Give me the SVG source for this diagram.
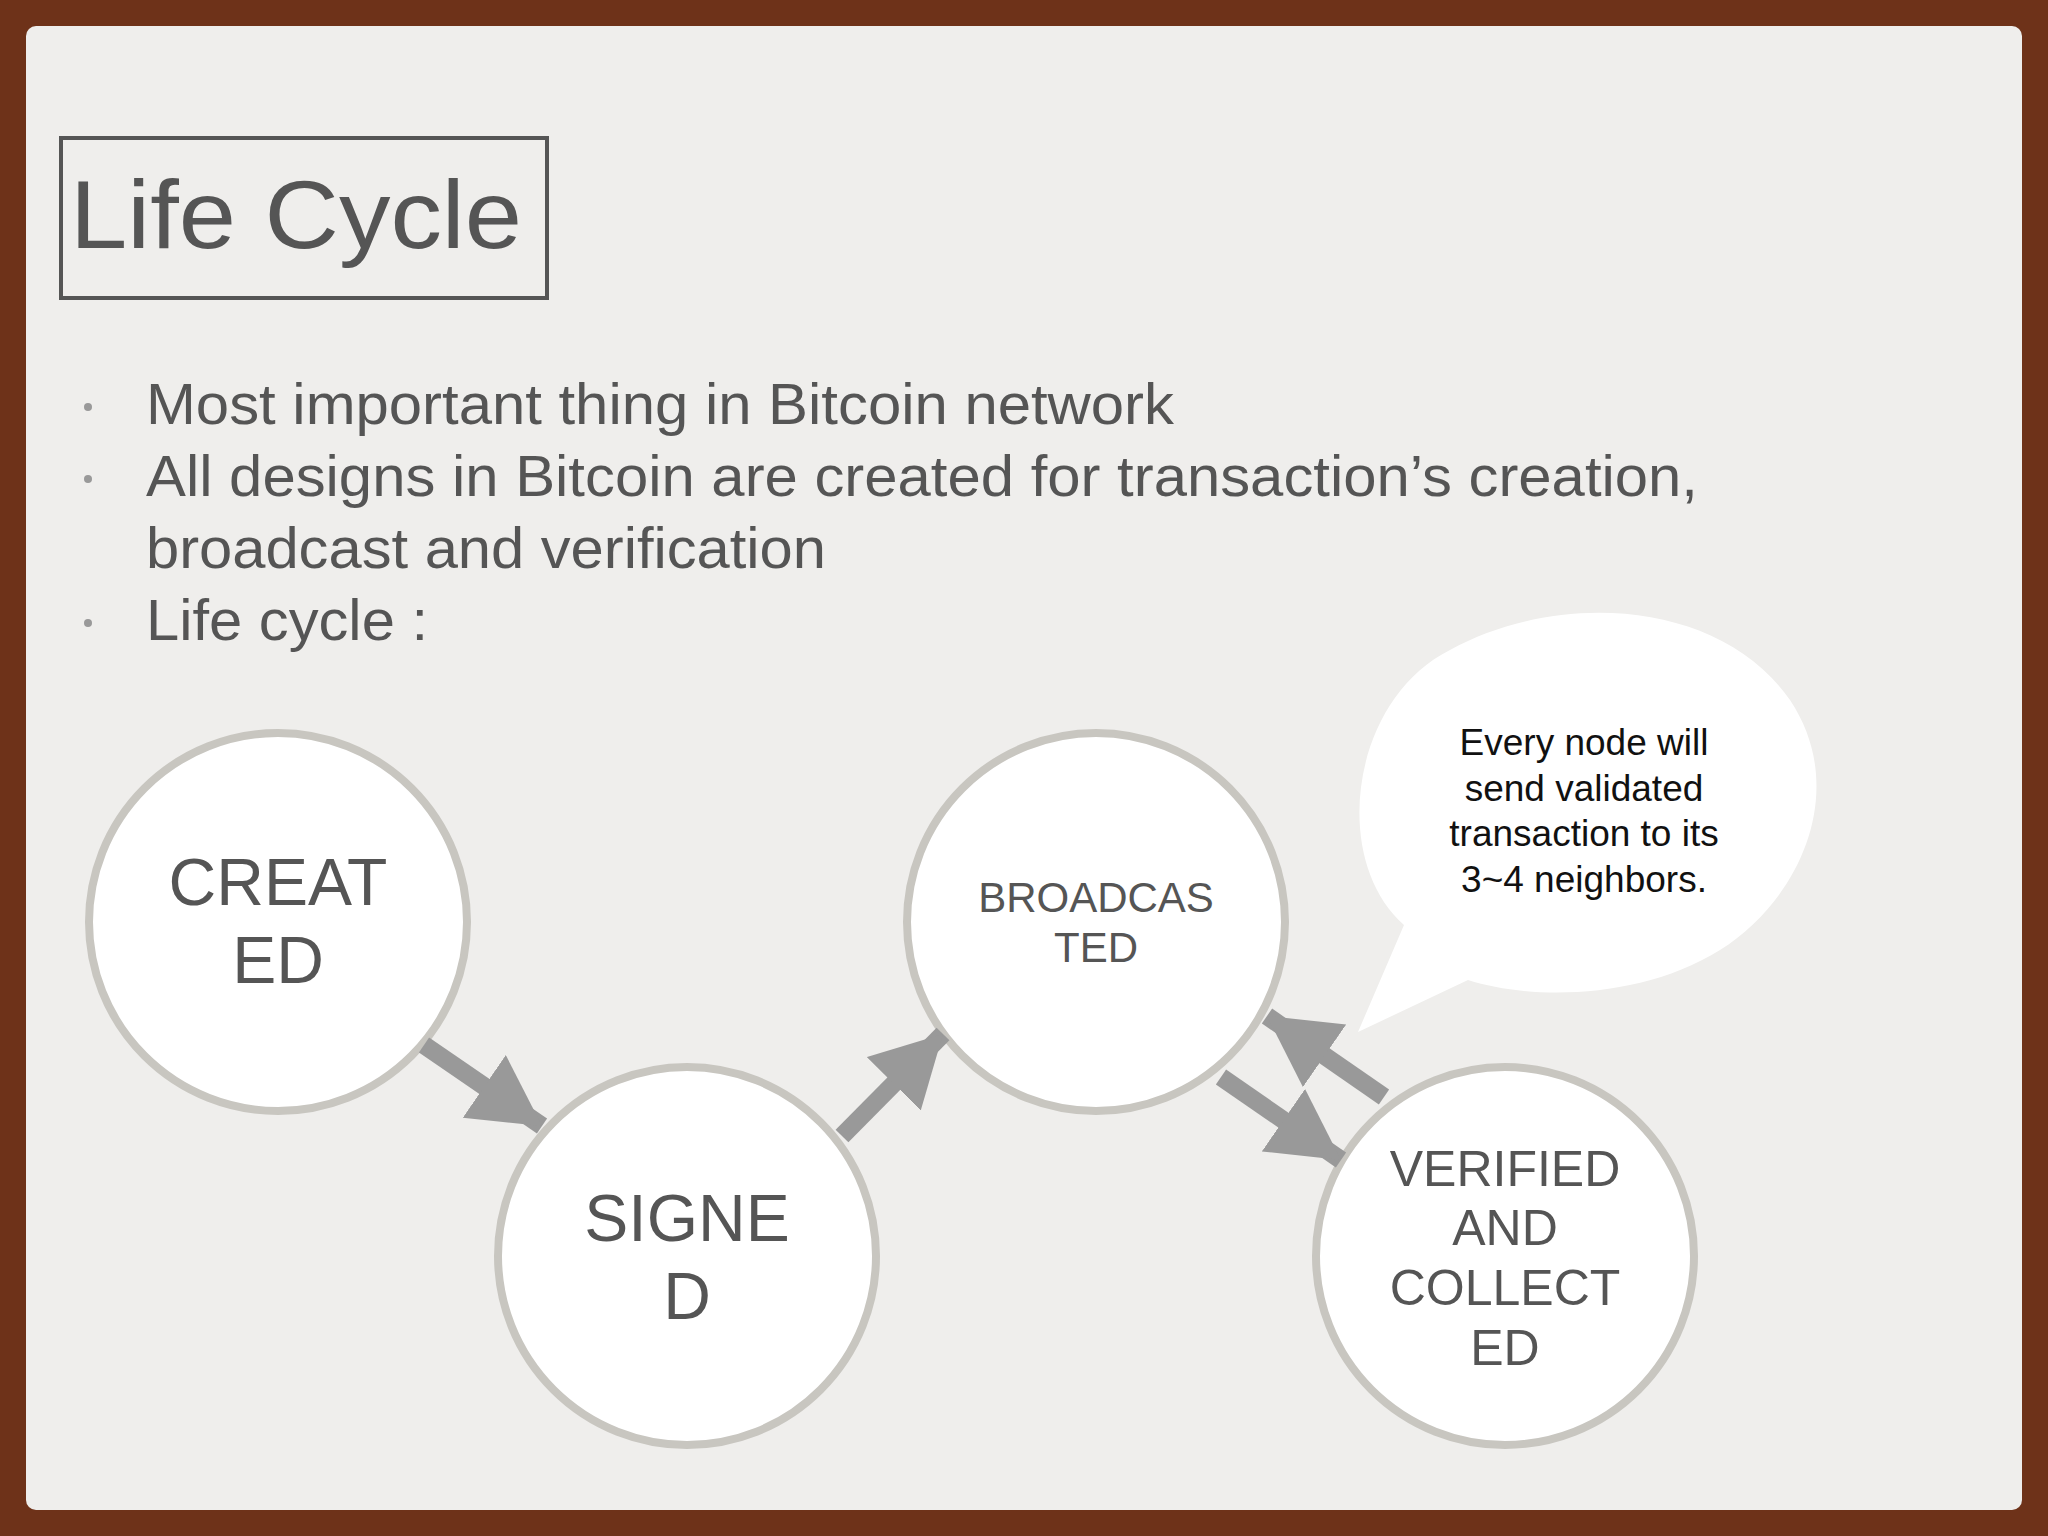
<svg xmlns="http://www.w3.org/2000/svg" width="2048" height="1536" viewBox="0 0 2048 1536">
<style>
text{font-family:"Liberation Sans",Arial,sans-serif;fill:#555}
.c circle{fill:#fff;stroke:#c8c6c0;stroke-width:8}
.c text{text-anchor:middle}
.a{stroke:#999;stroke-width:18;marker-end:url(#h)}
</style>
<defs><marker id="h" markerUnits="userSpaceOnUse" markerWidth="80" markerHeight="80" refX="70" refY="38" orient="auto"><path d="M0,0L70,38L0,76Z" fill="#999"/></marker></defs>
<rect width="2048" height="1536" fill="#6e3219"/>
<rect x="26" y="26" width="1996" height="1484" rx="10" fill="#efeeec"/>
<g id="title"><rect x="61" y="138" width="486" height="160" fill="none" stroke="#555" stroke-width="4"/><text x="70" y="248" font-size="96" textLength="452" lengthAdjust="spacingAndGlyphs">Life Cycle</text></g>
<g id="bullets" font-size="58">
<circle cx="88" cy="407" r="4" fill="#999"/><circle cx="88" cy="479" r="4" fill="#999"/><circle cx="88" cy="623" r="4" fill="#999"/>
<text x="146" y="424" textLength="1028" lengthAdjust="spacingAndGlyphs">Most important thing in Bitcoin network</text>
<text x="146" y="496" textLength="1552" lengthAdjust="spacingAndGlyphs">All designs in Bitcoin are created for transaction’s creation,</text>
<text x="146" y="568" textLength="680" lengthAdjust="spacingAndGlyphs">broadcast and verification</text>
<text x="146" y="640" textLength="282" lengthAdjust="spacingAndGlyphs">Life cycle :</text>
</g>
<g id="bubble"><path d="M1404,925 C1330,860 1350,700 1450,650 C1560,590 1720,600 1790,700 C1850,790 1800,900 1720,950 C1640,1000 1530,1000 1468,980 L1358,1032 Z" fill="#fff"/>
<g font-size="37" text-anchor="middle"><text x="1584" y="755" style="fill:#111">Every node will</text><text x="1584" y="801" style="fill:#111">send validated</text><text x="1584" y="846" style="fill:#111">transaction to its</text><text x="1584" y="892" style="fill:#111">3~4 neighbors.</text></g></g>
<g id="created" class="c"><circle cx="278" cy="922" r="189"/><text x="278" y="905" font-size="66">CREAT</text><text x="278" y="983" font-size="66">ED</text></g>
<g id="signed" class="c"><circle cx="687" cy="1256" r="189"/><text x="687" y="1241" font-size="66">SIGNE</text><text x="687" y="1319" font-size="66">D</text></g>
<g id="broadcasted" class="c"><circle cx="1096" cy="922" r="189"/><text x="1096" y="912" font-size="42">BROADCAS</text><text x="1096" y="962" font-size="42">TED</text></g>
<g id="verified" class="c"><circle cx="1505" cy="1256" r="189"/><text x="1505" y="1186" font-size="50">VERIFIED</text><text x="1505" y="1245" font-size="50">AND</text><text x="1505" y="1305" font-size="50">COLLECT</text><text x="1505" y="1365" font-size="50">ED</text></g>
<g id="connectors">
<line class="a" x1="424" y1="1045" x2="542" y2="1126"/>
<line class="a" x1="842" y1="1136" x2="943" y2="1034"/>
<line class="a" x1="1221" y1="1077" x2="1341" y2="1160"/>
<line class="a" x1="1384" y1="1097" x2="1267" y2="1016"/>
</g>
</svg>
